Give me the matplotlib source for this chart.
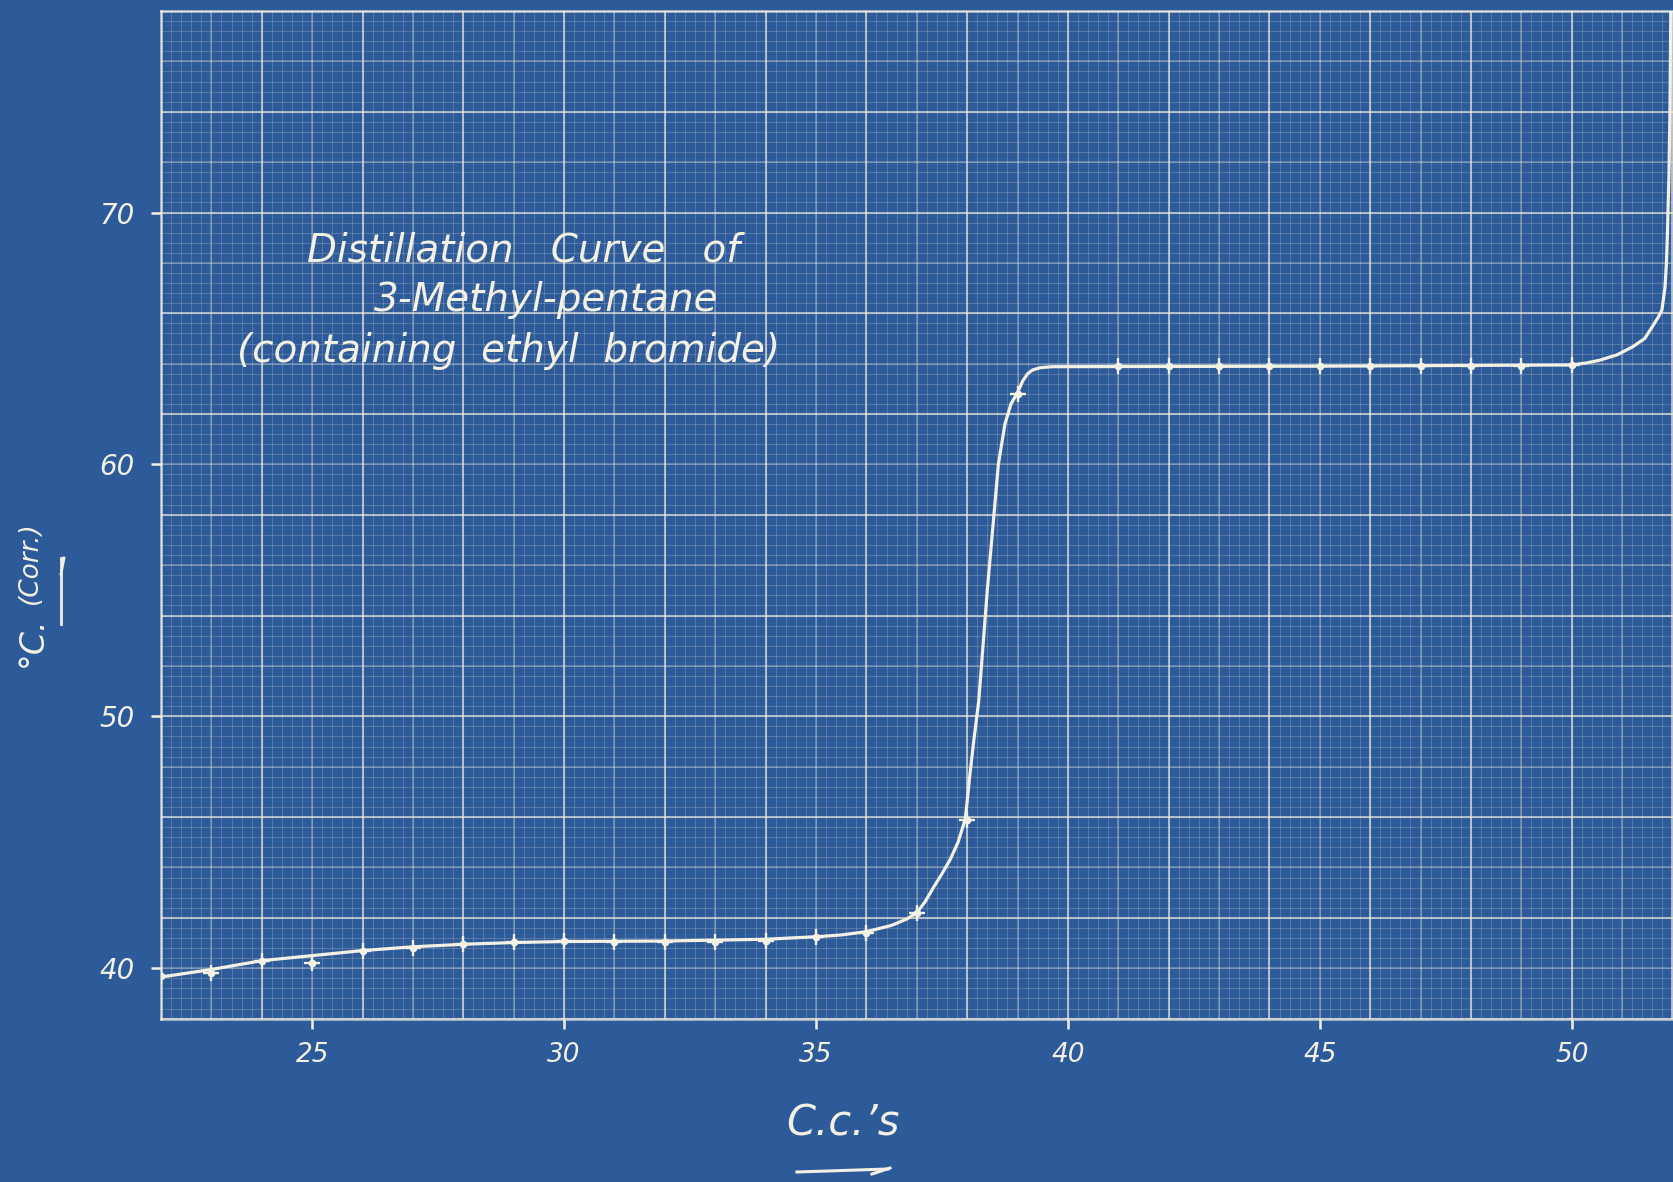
import numpy as np
import matplotlib
matplotlib.use("Agg")
import matplotlib.pyplot as plt

# ---- data ----
obs_x = [22, 23, 24, 25, 26, 27, 28, 29, 30, 31, 32, 33, 34, 35, 36, 37, 38, 39,
         41, 42, 43, 44, 45, 46, 47, 48, 49, 50]
obs_y = [39.7, 39.8, 40.3, 40.2, 40.7, 40.8, 40.95, 41.05, 41.1, 41.05, 41.05, 41.05,
         41.1, 41.25, 41.4, 42.2, 45.9, 62.8,
         63.9, 63.9, 63.9, 63.9, 63.9, 63.9, 63.9, 63.9, 63.9, 63.95]

# hand-drawn smooth curve
curve_x = [22.0, 23.0, 24.0, 25.0, 26.0, 27.0, 28.0, 29.0, 30.0, 32.0, 34.0, 35.0,
           35.5, 36.0, 36.5, 36.8, 37.0, 37.17, 37.33, 37.5, 37.66, 37.82, 37.96, 38.0,
           38.05, 38.13, 38.23, 38.4, 38.62, 38.75, 38.87, 39.0, 39.1, 39.2, 39.3,
           39.45, 39.7, 45.0, 50.0, 50.3, 50.56, 50.9, 51.21, 51.45, 51.6, 51.72,
           51.79, 51.85, 51.88, 51.9, 51.93, 51.95, 51.97]
curve_y = [39.65, 39.95, 40.3, 40.5, 40.7, 40.85, 40.95, 41.02, 41.06, 41.08, 41.15, 41.25,
           41.32, 41.45, 41.7, 41.95, 42.2, 42.65, 43.2, 43.75, 44.3, 45.0, 45.9, 46.6,
           47.6, 49.0, 50.6, 55.0, 60.0, 61.6, 62.4, 62.85, 63.3, 63.6, 63.75,
           63.84, 63.88, 63.9, 63.95, 64.03, 64.14, 64.35, 64.67, 65.0, 65.47, 65.85,
           66.13, 67.0, 68.0, 69.2, 71.5, 74.1, 79.0]

title_lines = ["Distillation   Curve   of", "3-Methyl-pentane", "(containing  ethyl  bromide)"]
xtick_vals = [25, 30, 35, 40, 45, 50]
ytick_vals = [40, 50, 60, 70]
xlabel_text = "C.c.\u2019s"
ylabel_main = "°C."
ylabel_sub = "(Corr.)"

# ---- style ----
BG = "#2d5a98"
INK = "#f3f0e4"
W, H = 1674, 1182

fig = plt.figure(figsize=(W / 100, H / 100), dpi=100)
fig.patch.set_facecolor(BG)

left = 161 / W
bottom = (H - 1018.6) / H
top = (H - 11) / H
ax = fig.add_axes([left, bottom, 1.0 - left, top - bottom])
ax.set_facecolor(BG)
ax.set_xlim(22, 52.03)
ax.set_ylim(38, 78)

# graph paper grid: fine / medium / heavy
xt = ax.get_xaxis_transform()
yt = ax.get_yaxis_transform()
fine_x = np.arange(22, 52.05, 0.2)
fine_y = np.arange(38, 78.01, 0.4)
ax.vlines(fine_x, 0, 1, transform=xt, color=INK, alpha=0.2, lw=0.8, zorder=1)
ax.hlines(fine_y, 0, 1, transform=yt, color=INK, alpha=0.2, lw=0.8, zorder=1)
med_x = np.arange(22, 52.05, 1.0)
med_y = np.arange(38, 78.01, 2.0)
ax.vlines(med_x, 0, 1, transform=xt, color=INK, alpha=0.35, lw=1.1, zorder=1)
ax.hlines(med_y, 0, 1, transform=yt, color=INK, alpha=0.35, lw=1.1, zorder=1)
hv_x = np.arange(22, 52.05, 2.0)
hv_y = np.arange(38, 78.01, 4.0)
ax.vlines(hv_x, 0, 1, transform=xt, color=INK, alpha=0.5, lw=1.5, zorder=1)
ax.hlines(hv_y, 0, 1, transform=yt, color=INK, alpha=0.5, lw=1.5, zorder=1)

for s in ["left", "bottom", "top"]:
    ax.spines[s].set_color(INK)
    ax.spines[s].set_alpha(0.75)
    ax.spines[s].set_linewidth(1.8)
ax.spines["right"].set_visible(False)

# curve and observed points
ax.plot(curve_x, curve_y, color=INK, lw=2.3, zorder=3, solid_joinstyle="round",
        solid_capstyle="round")
ax.plot(obs_x, obs_y, linestyle="none", marker="+", ms=12, mew=1.7, color=INK, zorder=4)
ax.plot(obs_x, obs_y, linestyle="none", marker="o", ms=4.5, color=INK, zorder=4)

# ticks
ax.set_xticks(xtick_vals)
ax.set_yticks(ytick_vals)
ax.set_xticklabels([str(v) for v in xtick_vals])
ax.set_yticklabels([str(v) for v in ytick_vals])
ax.tick_params(axis="both", direction="out", length=7, width=1.8, color=INK,
               labelcolor=INK)
ax.tick_params(axis="x", pad=10, labelsize=19)
ax.tick_params(axis="y", pad=12, labelsize=20)
for lab in ax.get_xticklabels() + ax.get_yticklabels():
    lab.set_fontstyle("oblique")

# title block
def fy(y):
    return 1 - y / H

def fx(x):
    return x / W

tkw = dict(color=INK, fontsize=28, fontstyle="oblique", ha="center", va="center")
fig.text(fx(523), fy(250), title_lines[0], **tkw)
fig.text(fx(546), fy(300), title_lines[1], **tkw)
fig.text(fx(509), fy(351), title_lines[2], **tkw)

# axis labels
fig.text(fx(843), fy(1124), xlabel_text, color=INK, fontsize=30, fontstyle="oblique",
         ha="center", va="center")
fig.add_artist(plt.Line2D([fx(797), fx(888)], [fy(1172), fy(1169)], color=INK, lw=2.2))
fig.add_artist(plt.Line2D([fx(872), fx(890)], [fy(1174), fy(1168)], color=INK, lw=2.2))

fig.text(fx(32), fy(642), ylabel_main, color=INK, fontsize=24, fontstyle="oblique",
         rotation=90, ha="center", va="center")
fig.text(fx(30), fy(563), ylabel_sub, color=INK, fontsize=19, fontstyle="oblique",
         rotation=90, ha="center", va="center")
fig.add_artist(plt.Line2D([fx(61), fx(61)], [fy(624), fy(558)], color=INK, lw=2.0))
fig.add_artist(plt.Line2D([fx(61), fx(64)], [fy(574), fy(558)], color=INK, lw=2.0))

fig.savefig("out.png", dpi=100, facecolor=BG)
